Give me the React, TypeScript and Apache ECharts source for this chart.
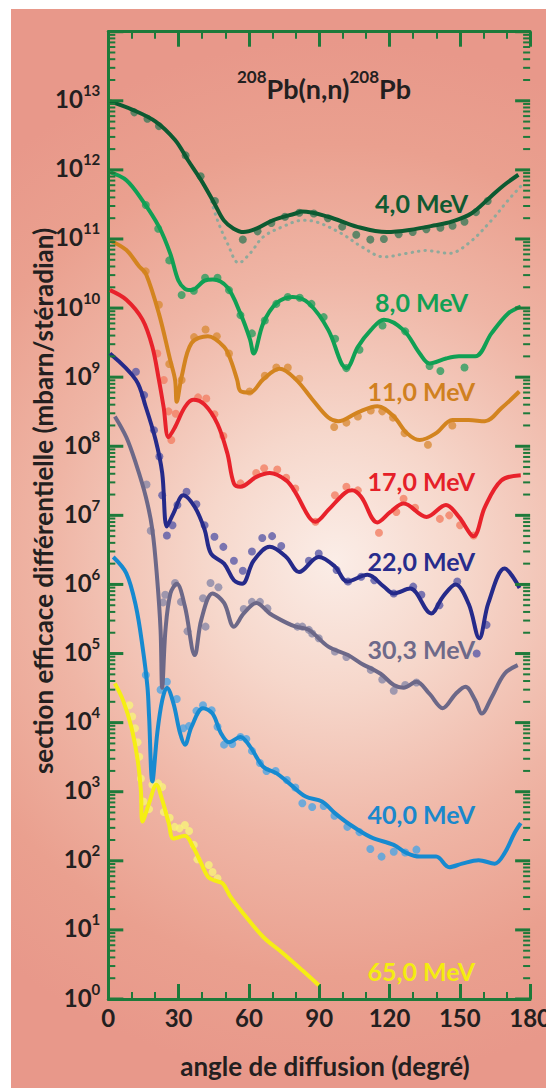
import React, { useEffect, useRef } from "react";
import * as echarts from "echarts";

// ---------- data ----------
const X_TICKS = [0, 30, 60, 90, 120, 150, 180];
const Y_EXPONENTS = [0, 1, 2, 3, 4, 5, 6, 7, 8, 9, 10, 11, 12, 13, 14];
const MINOR_MULTIPLIERS = [2, 3, 4, 5, 6, 7, 8, 9];

const LABELS = ["4,0 MeV", "8,0 MeV", "11,0 MeV", "17,0 MeV", "22,0 MeV", "30,3 MeV", "40,0 MeV", "65,0 MeV"];

const E4_LINE = [[0.7, 9.8e12], [10.4, 7.4e12], [20.2, 5.0e12], [28.5, 2.7e12], [34, 1.38e12], [39.6, 7.1e11], [45.2, 3.3e11], [49.3, 1.86e11], [53.5, 1.41e11], [57.7, 1.26e11], [63.2, 1.41e11], [70.2, 1.86e11], [79.9, 2.34e11], [82.7, 2.5e11], [93.8, 2.1e11], [106.3, 1.5e11], [118.8, 1.26e11], [128.5, 1.35e11], [139.6, 1.58e11], [146.5, 1.78e11], [154.9, 2.34e11], [163.2, 4.1e11], [168.8, 6.0e11], [175, 8.5e11]];
const E4_ALT = [[44, 3.5e11], [46.6, 1.86e11], [50.8, 8.7e10], [55.7, 4.5e10], [60.5, 6.2e10], [66.1, 1.07e11], [74.5, 1.51e11], [82.8, 1.86e11], [88.4, 1.78e11], [99.5, 1.2e11], [107.9, 7.8e10], [117.6, 5.5e10], [127.4, 6.2e10], [135.7, 6.8e10], [145.5, 6.2e10], [153.8, 8.7e10], [163.5, 1.86e11], [170.5, 3.6e11], [176, 5.8e11]];
const E4_DATA = [[11.1, 6.8e12], [16.7, 5.5e12], [21.6, 4.3e12], [33, 1.62e12], [39.4, 8.1e11], [45.5, 3.55e11], [57.4, 9.8e10], [63.7, 1.29e11], [69.6, 1.7e11], [75.4, 2.1e11], [81.5, 2.4e11], [87.7, 2.34e11], [93.7, 2.0e11], [99.8, 1.51e11], [105.8, 1.15e11], [111.8, 9.8e10], [117.6, 1.0e11], [123.9, 1.17e11], [129.9, 1.26e11], [135.7, 1.38e11], [141.7, 1.45e11], [146.9, 1.55e11], [152, 1.78e11], [156.9, 2.45e11], [161.9, 3.55e11]];

const E8_LINE = [[0.7, 9.3e11], [7.7, 7.1e11], [14.6, 3.6e11], [21.6, 1.51e11], [26.4, 6.2e10], [29.9, 2.5e10], [32.7, 1.9e10], [35.5, 1.82e10], [41.1, 2.5e10], [44.6, 2.6e10], [50.8, 2.0e10], [56.4, 8.3e9], [60.5, 3.5e9], [62, 2.2e9], [66.1, 6.0e9], [71.7, 1.17e10], [78.7, 1.45e10], [85.6, 1.17e10], [93.9, 4.8e9], [99.5, 1.58e9], [101.6, 1.35e9], [106.5, 2.75e9], [112, 4.8e9], [117.6, 6.8e9], [126, 4.8e9], [132.9, 2.2e9], [137.1, 1.58e9], [144.1, 1.86e9], [149.6, 2.0e9], [156.6, 2.0e9], [163.5, 4.3e9], [170.5, 8.3e9], [176, 1.05e10]];
const E8_DATA = [[16, 3.1e11], [21.3, 1.41e11], [26, 4.9e10], [31.3, 1.55e10], [36.5, 1.78e10], [41.3, 2.75e10], [46.6, 2.75e10], [51.5, 1.82e10], [56.4, 7.9e9], [61.3, 4.3e9], [66.8, 6.6e9], [71.7, 1.15e10], [76.6, 1.45e10], [81.7, 1.41e10], [86.7, 1.15e10], [91.9, 7.4e9], [96.8, 3.6e9], [101.6, 1.35e9], [107.2, 2.5e9], [117, 5.6e9], [126.7, 4.6e9], [137.1, 1.45e9], [141.7, 1.23e9], [152, 1.38e9]];

const E11_LINE = [[0.7, 9.5e10], [7.7, 6.9e10], [13.2, 4.0e10], [16, 3.16e10], [21.6, 8.3e9], [26.4, 1.78e9], [28.5, 9.1e8], [29.2, 4.4e8], [31.3, 1.02e9], [35.5, 3.1e9], [42.5, 3.9e9], [49.4, 2.75e9], [52.2, 1.78e9], [55, 9.1e8], [56.4, 6.3e8], [60.5, 6.0e8], [66.1, 9.3e8], [73.1, 1.32e9], [80, 9.3e8], [87, 4.8e8], [93.9, 2.6e8], [98.1, 2.3e8], [106.5, 3.1e8], [114.8, 3.8e8], [121.8, 2.7e8], [127.4, 1.55e8], [132.9, 1.23e8], [139.9, 1.55e8], [146.8, 2.4e8], [153.8, 2.4e8], [160.7, 2.3e8], [167.7, 3.55e8], [175.4, 6.2e8]];
const E11_DATA = [[16, 3.4e10], [21.6, 1.12e10], [26, 1.55e9], [31.3, 9.1e8], [36.6, 3.8e9], [41.5, 4.9e9], [46.3, 3.9e9], [51.5, 2.2e9], [60.3, 6.2e8], [66.8, 1.05e9], [71.7, 1.38e9], [76.6, 1.38e9], [81.5, 9.5e8], [96.4, 1.9e8], [101.6, 2.2e8], [106.5, 2.7e8], [112, 3.3e8], [116.9, 3.2e8], [121.5, 2.6e8], [126.4, 1.55e8], [136.4, 1.05e8], [146.8, 2.0e8]];

const E17_LINE = [[0.7, 1.82e10], [7.7, 1.32e10], [14.6, 6.8e9], [18.8, 2.75e9], [21.6, 9.1e8], [23.6, 3.7e8], [25.7, 1.35e8], [28.5, 1.9e8], [32.7, 3.7e8], [36.2, 4.7e8], [41.1, 4.0e8], [46.6, 2.1e8], [50.8, 7.9e7], [53.6, 2.9e7], [56.4, 2.6e7], [63.2, 3.6e7], [68.9, 4.1e7], [75.9, 3.2e7], [80, 2.1e7], [85.6, 9.5e6], [88.4, 8.1e6], [93.9, 1.2e7], [100.9, 2.1e7], [104, 2.3e7], [107.9, 1.86e7], [114.8, 7.9e6], [120.4, 1.12e7], [126, 1.48e7], [135.8, 9.5e6], [144.1, 1.41e7], [149.6, 9.5e6], [155.9, 5.0e6], [160.7, 1.32e7], [167.7, 3.2e7], [176, 3.8e7]];
const E17_DATA = [[20.9, 2.2e9], [23.7, 9.1e8], [25.7, 3.2e8], [26.9, 1.23e8], [28.8, 2.95e8], [38.3, 5.1e8], [41.8, 4.9e8], [45.3, 2.9e8], [49.1, 1.41e8], [56.4, 2.9e7], [63.1, 4.1e7], [66.5, 4.8e7], [72.1, 4.6e7], [75.9, 3.5e7], [79.8, 2.45e7], [88.4, 8.1e6], [96.7, 1.95e7], [101.6, 2.6e7], [106.5, 2.3e7], [115.5, 5.6e6], [122.9, 1.12e7], [126, 1.74e7], [130.9, 1.29e7], [141.5, 8.9e6], [145.5, 1.0e7], [150.1, 7.2e6], [155.9, 5.1e6]];

const E22_LINE = [[0.7, 2.2e9], [11.8, 9.1e8], [16, 3.7e8], [20.2, 1.23e8], [23, 4.1e7], [25, 6.9e6], [27.8, 1.07e7], [32, 1.95e7], [36.9, 1.32e7], [41.1, 6.2e6], [43.8, 2.8e6], [49.4, 2.0e6], [53.6, 1.15e6], [57.1, 1.02e6], [62, 2.2e6], [68.9, 3.5e6], [75.9, 2.5e6], [81.4, 1.51e6], [89.8, 2.5e6], [96.7, 1.82e6], [102, 1.1e6], [110.6, 1.38e6], [117.6, 9.3e5], [121.8, 7.4e5], [128.8, 8.7e5], [137.8, 3.8e5], [142.7, 6.6e5], [148.2, 1.0e6], [153.8, 5.2e5], [158.3, 1.66e5], [162.2, 5.4e5], [169.1, 1.7e6], [175.5, 8.9e5]];
const E22_DATA = [[11.8, 1.2e9], [15.3, 5.5e8], [19.5, 1.7e8], [21.8, 7.1e7], [23, 1.95e7], [25, 5.1e6], [27.4, 7.2e6], [29.5, 1.41e7], [33.4, 2.2e7], [37.6, 1.45e7], [41.1, 7.2e6], [45.3, 4.9e6], [49.1, 3.5e6], [53.6, 2.2e6], [57.4, 1.58e6], [61.3, 3.0e6], [65.7, 4.7e6], [69.9, 5.0e6], [73.8, 3.6e6], [85.6, 2.2e6], [89.8, 2.8e6], [97.4, 1.62e6], [102.3, 1.1e6], [107.9, 1.29e6], [113.5, 1.15e6], [121.8, 7.4e5], [130.1, 9.3e5], [133.6, 7.1e5], [141.3, 5.0e5], [148.9, 1.1e6], [157.2, 1.0e5], [161.4, 2.6e5]];

const E30_LINE = [[2.8, 2.7e8], [7.7, 1.35e8], [11.8, 5.6e7], [16, 1.86e7], [18.8, 6.2e6], [20.9, 1.15e6], [22.3, 2.2e5], [23, 3.2e4], [24.4, 2.2e5], [26.5, 7.4e5], [29.2, 1.02e6], [32.7, 4.8e5], [36.9, 9.5e4], [39.7, 3.1e5], [44.5, 7.4e5], [49.4, 5.4e5], [53.6, 2.45e5], [57.8, 3.8e5], [63.2, 5.4e5], [68.9, 3.8e5], [75.9, 2.8e5], [80, 2.45e5], [85.6, 2.2e5], [93.9, 1.26e5], [102.3, 9.5e4], [107.9, 7.2e4], [116.2, 5.1e4], [121.8, 3.5e4], [126, 3.2e4], [131.5, 3.9e4], [137.1, 2.6e4], [142.7, 1.62e4], [148.2, 2.6e4], [152.4, 3.3e4], [156.6, 2.1e4], [159.4, 1.35e4], [163.5, 2.3e4], [169.1, 5.1e4], [174.7, 6.8e4]];
const E30_DATA = [[16.3, 2.8e7], [18.1, 6.0e6], [23.4, 5.5e5], [24.3, 7.1e5], [28.5, 1.05e6], [31, 5.6e5], [33.8, 2.1e5], [40.4, 6.3e5], [41.5, 2.45e5], [43.6, 1.05e6], [47, 9.1e5], [57.8, 4.4e5], [61.3, 5.6e5], [64.7, 5.6e5], [67.9, 4.5e5], [80.7, 2.45e5], [82.8, 2.45e5], [85.6, 2.2e5], [87, 1.95e5], [89.8, 1.66e5], [96.7, 1.07e5], [101.6, 8.9e4], [112, 5.8e4], [116.9, 4.2e4], [121.8, 2.9e4], [126.7, 3.5e4], [131.5, 3.8e4]];

const E40_LINE = [[2.1, 2.5e6], [7.7, 1.45e6], [11.8, 4.8e5], [14.6, 1.26e5], [16.7, 3.3e4], [17.4, 1.23e4], [18.8, 1.41e3], [20.9, 7.1e3], [23, 2.1e4], [25, 3.2e4], [27.8, 1.9e4], [30.6, 7.1e3], [32.7, 4.8e3], [35.5, 8.7e3], [40.4, 1.62e4], [44.5, 1.35e4], [48, 7.1e3], [51.5, 5.2e3], [56.4, 6.2e3], [60.5, 4.5e3], [66.1, 2.3e3], [71.7, 1.86e3], [77.2, 1.32e3], [84.2, 850], [91.2, 720], [96.7, 490], [102.3, 350], [112, 220], [121.8, 170], [127.4, 129], [132.9, 115], [139.9, 115], [145.5, 81], [151, 91], [158, 102], [164.9, 91], [169.1, 129], [173.3, 250], [176, 350]];
const E40_DATA = [[16, 4.9e4], [22.3, 3.0e4], [25, 3.9e4], [29.2, 2.2e4], [32, 8.3e3], [34.4, 8.9e3], [37.6, 1.48e4], [40.4, 1.78e4], [44.1, 1.51e4], [46.6, 8.7e3], [49.4, 4.8e3], [52.9, 4.9e3], [56.4, 6.2e3], [58.9, 5.8e3], [61.3, 3.9e3], [64.7, 2.6e3], [67.5, 2.0e3], [71.4, 2.0e3], [76.2, 1.48e3], [79.8, 1.15e3], [82.8, 680], [87, 600], [91.9, 620], [96.5, 450], [102, 310], [107.2, 260], [111.8, 148], [116.6, 115], [121.8, 135], [126.7, 132], [131.5, 145]];

const E65_LINE = [[2.8, 3.7e4], [6.3, 2.1e4], [9.8, 8.7e3], [12.5, 2.9e3], [13.9, 1.05e3], [14.6, 370], [17.4, 680], [20.5, 1.26e3], [23, 760], [25.8, 350], [27.8, 210], [32.7, 230], [36.2, 158], [39.7, 91], [42.5, 59], [45.3, 52], [48.8, 47], [52.2, 30], [57.8, 17], [66.1, 7.9], [74.5, 4.6], [82.8, 2.6], [89.8, 1.58]];
const E65_DATA = [[9, 1.78e4], [10.2, 1.23e4], [11.4, 8.3e3], [12.5, 5.2e3], [13.2, 3.2e3], [13.9, 1.55e3], [15, 720], [17.4, 560], [18.8, 1.26e3], [21.3, 1.32e3], [23, 1.17e3], [23.7, 510], [26.2, 420], [28.3, 310], [30.4, 295], [32.7, 330], [34.5, 270], [36.5, 170], [38, 105], [42.9, 87], [44.5, 69], [46.6, 56]];

// ---------- styling ----------
const FONT = "Lato";
const GREEN = "#1d7a3a";
const TEXT = "#231f20";

const CURVES = [
  { name: LABELS[0], line: E4_LINE, pts: E4_DATA, color: "#0c5a31", dot: "#3d7a5a", label: "#0f5a32", lx: 460, ly: 195 },
  { name: LABELS[1], line: E8_LINE, pts: E8_DATA, color: "#10a054", dot: "#2c9d60", label: "#11a055", lx: 460, ly: 294 },
  { name: LABELS[2], line: E11_LINE, pts: E11_DATA, color: "#d3841f", dot: "#d98c3a", label: "#d08020", lx: 467, ly: 383 },
  { name: LABELS[3], line: E17_LINE, pts: E17_DATA, color: "#e8222b", dot: "#f27f64", label: "#e52028", lx: 467, ly: 473 },
  { name: LABELS[4], line: E22_LINE, pts: E22_DATA, color: "#252a8a", dot: "#5a5aa8", label: "#282c8c", lx: 467, ly: 553 },
  { name: LABELS[5], line: E30_LINE, pts: E30_DATA, color: "#6c6888", dot: "#8a88a8", label: "#6e6a8a", lx: 467, ly: 641 },
  { name: LABELS[6], line: E40_LINE, pts: E40_DATA, color: "#168ad0", dot: "#4ea4e2", label: "#1a88cc", lx: 467, ly: 806 },
  { name: LABELS[7], line: E65_LINE, pts: E65_DATA, color: "#f5ee14", dot: "#f8f27a", label: "#f4ec10", lx: 467, ly: 963 },
];

export default function App() {
  const ref = useRef<HTMLDivElement>(null);

  useEffect(() => {
    document.documentElement.style.overflow = "hidden";
    document.body.style.overflow = "hidden";
    if (!ref.current) return;
    const chart = echarts.init(ref.current, null, { renderer: "svg" });

    const tickData: any[] = [];
    Y_EXPONENTS.forEach((e) => {
      tickData.push([0, Math.pow(10, e), 1, e]);
      if (e < 14) MINOR_MULTIPLIERS.forEach((m) => tickData.push([0, m * Math.pow(10, e), 0, e]));
    });

    const series: any[] = [];
    CURVES.forEach((c) => {
      series.push({
        type: "scatter",
        data: c.pts,
        symbolSize: 8,
        itemStyle: { color: c.dot },
        z: 2,
        silent: true,
      });
      series.push({
        type: "line",
        data: c.line,
        smooth: 0.35,
        showSymbol: false,
        lineStyle: { color: c.color, width: 4 },
        z: 3,
        silent: true,
      });
    });
    series.push({
      type: "line",
      data: E4_ALT,
      smooth: 0.35,
      showSymbol: false,
      lineStyle: { color: "#8fa99b", width: 3, type: [0.5, 6], cap: "round" },
      z: 2,
      silent: true,
    });
    series.push({
      type: "custom",
      data: tickData,
      encode: { x: 0, y: 1 },
      clip: false,
      silent: true,
      z: 5,
      renderItem: (params: any, api: any) => {
        const v = api.value(1);
        const major = api.value(2) === 1;
        const e = api.value(3);
        const y = api.coord([0, v])[1];
        const cs = params.coordSys;
        const L = major ? 15 : 7;
        const lw = major ? 3 : 2;
        const children: any[] = [
          { type: "line", shape: { x1: cs.x, y1: y, x2: cs.x + L, y2: y }, style: { stroke: GREEN, lineWidth: lw } },
          { type: "line", shape: { x1: cs.x + cs.width, y1: y, x2: cs.x + cs.width - L, y2: y }, style: { stroke: GREEN, lineWidth: lw } },
        ];
        if (major && e < 14) {
          children.push({
            type: "text",
            x: cs.x - 8,
            y: y - 4,
            style: {
              text: `{b|10}{s|${e}}`,
              align: "right",
              verticalAlign: "middle",
              fill: TEXT,
              rich: {
                b: { fontSize: 24, fontFamily: FONT, fontWeight: "bold", fill: TEXT, lineHeight: 28, verticalAlign: "bottom" },
                s: { fontSize: 15, fontFamily: FONT, fontWeight: "bold", fill: TEXT, lineHeight: 28, verticalAlign: "top" },
              },
            },
          });
        }
        return { type: "group", children };
      },
    });

    const xAxisBase = {
      type: "value",
      min: X_TICKS[0],
      max: X_TICKS[X_TICKS.length - 1],
      interval: 30,
      axisLine: { show: true, lineStyle: { color: GREEN, width: 3 } },
      axisTick: { show: true, inside: true, length: 15, lineStyle: { color: GREEN, width: 3 } },
      minorTick: { show: true, splitNumber: 3, length: 7, lineStyle: { color: GREEN, width: 2 } },
      splitLine: { show: false },
    };

    const yAxisBase = {
      type: "log",
      logBase: 10,
      min: 1,
      max: 1e14,
      axisLine: { show: true, lineStyle: { color: GREEN, width: 3 } },
      axisTick: { show: false },
      axisLabel: { show: false },
      splitLine: { show: false },
      minorTick: { show: false },
    };

    const title = {
      type: "text",
      x: 316,
      y: 77,
      z: 10,
      style: {
        text: "{s|208}{b|Pb(n,n)}{s|208}{b|Pb}",
        align: "center",
        verticalAlign: "middle",
        textAlign: "center",
        textVerticalAlign: "middle",
        fill: TEXT,
        rich: {
          b: { fontSize: 27, fontFamily: FONT, fontWeight: "bold", fill: TEXT, lineHeight: 34, verticalAlign: "bottom" },
          s: { fontSize: 17, fontFamily: FONT, fontWeight: "bold", fill: TEXT, lineHeight: 34, verticalAlign: "top" },
        },
      },
    };

    const curveLabels = CURVES.map((c) => ({
      type: "text",
      x: c.lx,
      y: c.ly,
      z: 10,
      style: {
        text: c.name,
        align: "right",
        verticalAlign: "middle",
        textAlign: "right",
        textVerticalAlign: "middle",
        fill: c.label,
        font: `bold 25px ${FONT}`,
      },
    }));

    chart.setOption({
      animation: false,
      grid: { left: 100.3, right: 14.5, top: 23.7, bottom: 89, containLabel: false },
      xAxis: [
        {
          ...xAxisBase,
          position: "bottom",
          axisLabel: {
            show: true,
            margin: 6,
            color: TEXT,
            fontSize: 24,
            fontFamily: FONT,
            fontWeight: "bold",
            formatter: (v: number) => String(v),
          },
        },
        { ...xAxisBase, position: "top", axisLabel: { show: false } },
      ],
      yAxis: [
        { ...yAxisBase, position: "left" },
        { ...yAxisBase, position: "right" },
      ],
      graphic: [
        {
          type: "rect",
          z: -100,
          silent: true,
          shape: { x: 3, y: 1, width: 543, height: 1079 },
          style: {
            fill: new echarts.graphic.RadialGradient(327, 552, 520, [
              { offset: 0, color: "#fbede7" },
              { offset: 0.25, color: "#f6d7cb" },
              { offset: 0.55, color: "#efb5a5" },
              { offset: 0.8, color: "#eaa08f" },
              { offset: 1, color: "#e8988a" },
            ], true),
          },
        },
        title,
        ...curveLabels,
        {
          type: "text",
          x: 317,
          y: 1058,
          z: 10,
          style: {
            text: "angle de diffusion (degré)",
            align: "center",
            verticalAlign: "middle",
            textAlign: "center",
            textVerticalAlign: "middle",
            fill: TEXT,
            font: `bold 26px ${FONT}`,
          },
        },
        {
          type: "text",
          x: 35,
          y: 493,
          rotation: Math.PI / 2,
          z: 10,
          style: {
            text: "section efficace différentielle (mbarn/stéradian)",
            align: "center",
            verticalAlign: "middle",
            textAlign: "center",
            textVerticalAlign: "middle",
            fill: TEXT,
            font: `bold 26px ${FONT}`,
          },
        },
      ],
      series,
    });

    return () => {
      chart.dispose();
    };
  }, []);

  return <div ref={ref} style={{ width: 546, height: 1080 }} />;
}
